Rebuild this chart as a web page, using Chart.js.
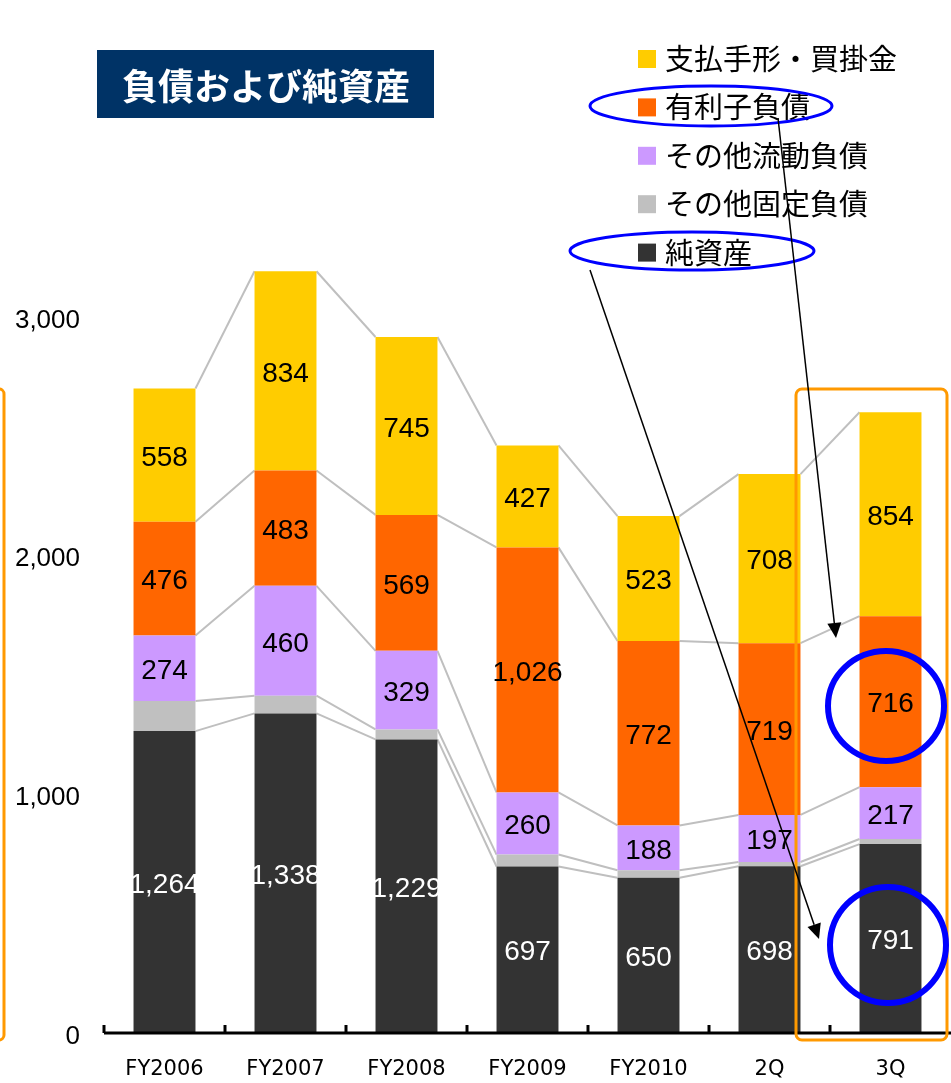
<!DOCTYPE html>
<html lang="ja">
<head>
<meta charset="utf-8">
<title>負債および純資産</title>
<script src="https://cdn.jsdelivr.net/npm/chart.js"></script>
<style>
  html, body { margin: 0; padding: 0; background: #fff; }
  #chart { display: block; }
</style>
</head>
<body>
<canvas id="chart" width="951" height="1083"></canvas>
<script>
// ── Datos ──────────────────────────────────────────────────────────────
const categories   = ['FY2006', 'FY2007', 'FY2008', 'FY2009', 'FY2010', '2Q', '3Q'];
const netAssets    = [1264, 1338, 1229, 697, 650, 698, 791];
const otherFixed   = [126, 74, 42, 50, 31, 18, 21];
const otherCurrent = [274, 460, 329, 260, 188, 197, 217];
const interestDebt = [476, 483, 569, 1026, 772, 719, 716];
const payables     = [558, 834, 745, 427, 523, 708, 854];
const yTicks       = [0, 1000, 2000, 3000];

const titleText = '負債および純資産';

const CJK = '"Noto Sans CJK JP", "Noto Sans", sans-serif';
const NUM = '"Liberation Sans", Arial, sans-serif';

// stacking order bottom → top; legend shows top → bottom
const series = [
  { label: '純資産',         data: netAssets,    color: '#333333', text: '#ffffff', showLabel: true },
  { label: 'その他固定負債', data: otherFixed,   color: '#C0C0C0', text: '#000000', showLabel: false },
  { label: 'その他流動負債', data: otherCurrent, color: '#CC99FF', text: '#000000', showLabel: true },
  { label: '有利子負債',     data: interestDebt, color: '#FF6600', text: '#000000', showLabel: true },
  { label: '支払手形・買掛金', data: payables,   color: '#FFCC00', text: '#000000', showLabel: true }
];

const fmt = v => v.toLocaleString('en-US');

// ── Líneas de conexión entre barras ────────────────────────────────────
const connectorPlugin = {
  id: 'connectors',
  beforeDatasetsDraw(chart) {
    const { ctx } = chart;
    ctx.save();
    ctx.strokeStyle = '#BFBFBF';
    ctx.lineWidth = 2;
    chart.data.datasets.forEach((ds, i) => {
      const bars = chart.getDatasetMeta(i).data;
      for (let j = 0; j < bars.length - 1; j++) {
        const a = bars[j], b = bars[j + 1];
        ctx.beginPath();
        ctx.moveTo(a.x + a.width / 2, a.y);
        ctx.lineTo(b.x - b.width / 2, b.y);
        ctx.stroke();
      }
    });
    ctx.restore();
  }
};

// ── Etiquetas de valores ───────────────────────────────────────────────
const valueLabelPlugin = {
  id: 'valueLabels',
  afterDatasetsDraw(chart) {
    const { ctx } = chart;
    ctx.save();
    ctx.font = `28px ${NUM}`;
    ctx.textAlign = 'center';
    ctx.textBaseline = 'middle';
    chart.data.datasets.forEach((ds, i) => {
      const s = series[i];
      if (!s.showLabel) return;
      ctx.fillStyle = s.text;
      chart.getDatasetMeta(i).data.forEach((bar, j) => {
        ctx.fillText(fmt(ds.data[j]), bar.x, (bar.y + bar.base) / 2 + 3);
      });
    });
    ctx.restore();
  }
};

// ── Eje X, título, leyenda y anotaciones ───────────────────────────────
function arrow(ctx, x1, y1, x2, y2) {
  const ang = Math.atan2(y2 - y1, x2 - x1);
  const len = 15, half = 7;
  ctx.beginPath();
  ctx.moveTo(x1, y1);
  ctx.lineTo(x2 - Math.cos(ang) * len, y2 - Math.sin(ang) * len);
  ctx.stroke();
  ctx.beginPath();
  ctx.moveTo(x2, y2);
  ctx.lineTo(x2 - Math.cos(ang) * len - Math.sin(ang) * half, y2 - Math.sin(ang) * len + Math.cos(ang) * half);
  ctx.lineTo(x2 - Math.cos(ang) * len + Math.sin(ang) * half, y2 - Math.sin(ang) * len - Math.cos(ang) * half);
  ctx.closePath();
  ctx.fill();
}

const decorPlugin = {
  id: 'decor',
  afterDraw(chart) {
    const { ctx, chartArea } = chart;
    const xs = chart.scales.x;
    ctx.save();

    // x axis line + inward ticks at category borders
    ctx.strokeStyle = '#000';
    ctx.lineWidth = 3;
    ctx.beginPath();
    ctx.moveTo(chartArea.left, chartArea.bottom);
    ctx.lineTo(chartArea.right, chartArea.bottom);
    ctx.stroke();
    const step = xs.getPixelForTick(1) - xs.getPixelForTick(0);
    for (let j = 0; j < categories.length; j++) {
      const tx = xs.getPixelForTick(j) - step / 2;
      ctx.beginPath();
      ctx.moveTo(tx, chartArea.bottom);
      ctx.lineTo(tx, chartArea.bottom - 8);
      ctx.stroke();
    }

    // title box
    ctx.fillStyle = '#003366';
    ctx.fillRect(97, 50, 337, 68);
    ctx.fillStyle = '#ffffff';
    ctx.font = `bold 36px ${CJK}`;
    ctx.textAlign = 'center';
    ctx.textBaseline = 'middle';
    ctx.fillText(titleText, 266, 86);

    // legend (top → bottom)
    ctx.textAlign = 'left';
    ctx.font = `29px ${CJK}`;
    series.slice().reverse().forEach((s, k) => {
      const cy = 59 + k * 48.4;
      ctx.fillStyle = s.color;
      ctx.fillRect(638, cy - 9, 18, 18);
      ctx.fillStyle = '#000';
      ctx.fillText(s.label, 665, cy);
    });

    // orange frames
    ctx.strokeStyle = '#FF9900';
    ctx.lineWidth = 3;
    ctx.beginPath();
    ctx.roundRect(-12, 389, 16, 651, 5);
    ctx.stroke();
    ctx.beginPath();
    ctx.roundRect(796, 389, 151, 651, 6);
    ctx.stroke();

    // blue ellipses
    ctx.strokeStyle = '#0000FF';
    ctx.lineWidth = 3;
    ctx.beginPath();
    ctx.ellipse(711, 106, 121, 20, 0, 0, Math.PI * 2);
    ctx.stroke();
    ctx.beginPath();
    ctx.ellipse(692, 251, 122, 19, 0, 0, Math.PI * 2);
    ctx.stroke();
    ctx.lineWidth = 6;
    ctx.beginPath();
    ctx.ellipse(886, 706, 58, 55, 0, 0, Math.PI * 2);
    ctx.stroke();
    ctx.beginPath();
    ctx.ellipse(888, 945, 58, 58, 0, 0, Math.PI * 2);
    ctx.stroke();

    // arrows
    ctx.strokeStyle = '#000';
    ctx.fillStyle = '#000';
    ctx.lineWidth = 1.5;
    arrow(ctx, 778, 118, 836, 638);
    arrow(ctx, 590, 270, 819, 939);

    ctx.restore();
  }
};

new Chart(document.getElementById('chart'), {
  type: 'bar',
  data: {
    labels: categories,
    datasets: series.map(s => ({
      label: s.label,
      data: s.data,
      backgroundColor: s.color,
      borderWidth: 0,
      categoryPercentage: 1,
      barPercentage: 0.512
    }))
  },
  options: {
    responsive: false,
    animation: false,
    layout: { padding: { top: 197, left: 0, right: 0, bottom: 0 } },
    plugins: { legend: { display: false }, tooltip: { enabled: false } },
    scales: {
      x: {
        stacked: true,
        grid: { display: false, drawTicks: false },
        border: { display: false },
        ticks: { color: '#000', font: { family: 'DejaVu Sans', size: 21 }, padding: 24, maxRotation: 0 },
        afterFit: s => { s.height = 50; }
      },
      y: {
        stacked: true,
        min: 0,
        max: 3500,
        afterBuildTicks: s => { s.ticks = yTicks.map(v => ({ value: v })); },
        grid: { display: false, drawTicks: false },
        border: { display: false },
        ticks: {
          color: '#000',
          font: { family: NUM, size: 26 },
          padding: 24,
          labelOffset: 4,
          callback: v => fmt(v)
        },
        afterFit: s => { s.width = 104; }
      }
    }
  },
  plugins: [connectorPlugin, valueLabelPlugin, decorPlugin]
});
</script>
</body>
</html>
